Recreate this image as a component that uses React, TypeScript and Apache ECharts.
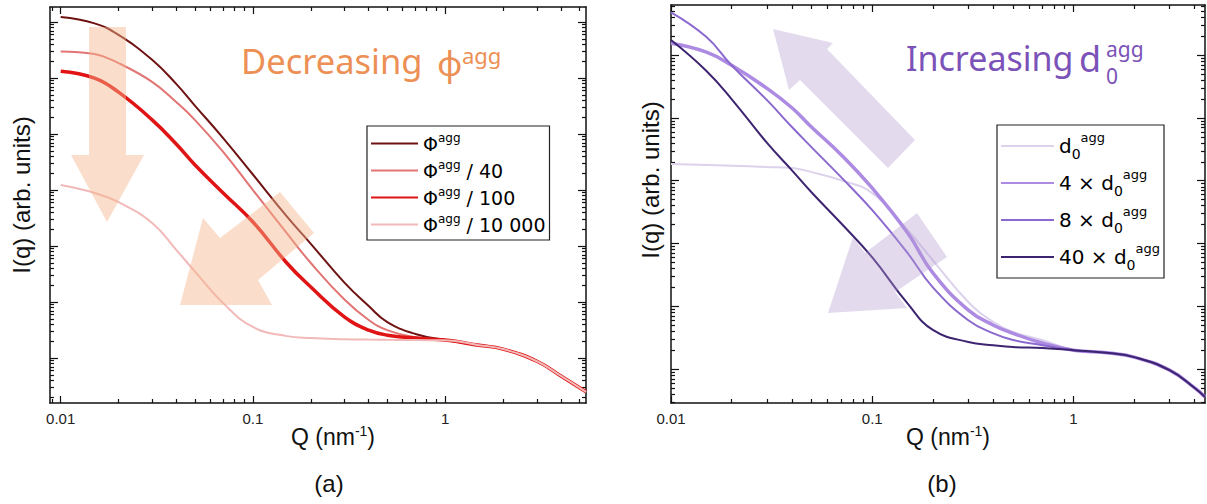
import React, { useEffect, useRef } from 'react';
import * as echarts from 'echarts';

// ---------- Panel (a) data ----------
const Q_A = [0.01, 0.015, 0.02, 0.03, 0.04, 0.05, 0.07, 0.1, 0.15, 0.2, 0.3, 0.4, 0.5, 0.7, 1, 1.5, 2, 3, 4, 5.4];
const PHI_AGG = [1.23e6, 9.5e5, 5.9e5, 2.1e5, 7.8e4, 3.2e4, 8.5e3, 1.9e3, 340, 110, 22, 8.5, 4.4, 2.7, 2.1, 1.7, 1.45, 0.88, 0.48, 0.25];
const PHI_AGG_40 = [3.0e5, 2.7e5, 1.85e5, 8.5e4, 3.7e4, 1.78e4, 4.8e3, 1.0e3, 170, 50, 11, 4.8, 3.16, 2.37, 2.1, 1.7, 1.45, 0.88, 0.48, 0.25];
const PHI_AGG_100 = [1.33e5, 1.0e5, 5.6e4, 1.78e4, 6.6e3, 2.8e3, 890, 270, 50, 18.6, 5.4, 3.16, 2.57, 2.28, 2.1, 1.7, 1.45, 0.88, 0.48, 0.25];
const PHI_AGG_10000 = [1230, 890, 610, 257, 85, 35, 9.6, 3.6, 2.47, 2.28, 2.18, 2.14, 2.12, 2.1, 2.08, 1.7, 1.45, 0.88, 0.48, 0.25];

// ---------- Panel (b) data ----------
const Q_B = [0.01, 0.015, 0.02, 0.03, 0.04, 0.05, 0.07, 0.1, 0.15, 0.2, 0.3, 0.4, 0.5, 0.7, 1, 1.5, 2, 3, 4, 4.5];
const D0_AGG = [1840, 1780, 1740, 1650, 1590, 1370, 1020, 635, 163, 54, 11.7, 5.6, 3.9, 2.9, 2.0, 1.8, 1.55, 0.96, 0.5, 0.36];
const D0_AGG_4 = [1.55e5, 1.12e5, 6.9e4, 2.96e4, 1.44e4, 7.1e3, 2.6e3, 760, 147, 34, 8.7, 5.0, 3.7, 2.6, 2.0, 1.8, 1.55, 0.96, 0.5, 0.36];
const D0_AGG_8 = [4.8e5, 1.94e5, 6.9e4, 1.92e4, 7.1e3, 3.4e3, 1140, 340, 70, 20, 6.0, 3.7, 2.9, 2.4, 2.0, 1.8, 1.55, 0.96, 0.5, 0.36];
const D0_AGG_40 = [1.74e5, 5.6e4, 2.0e4, 4.0e3, 1.45e3, 650, 210, 60, 11, 4.2, 2.7, 2.4, 2.24, 2.16, 2.0, 1.8, 1.55, 0.96, 0.5, 0.36];

// ---------- Axis ranges & ticks ----------
const X_A_RANGE = [0.0088, 5.4];
const X_B_RANGE = [0.01, 4.5];
const Y_A_RANGE = [0.158, 1.86e6];
const Y_B_RANGE = [0.288, 6.3e5];
const X_MAJOR = [0.01, 0.1, 1];
const Y_MAJOR = [1, 10, 100, 1000, 1e4, 1e5, 1e6];
const MINOR_MULTIPLIERS = [2, 3, 4, 5, 6, 7, 8, 9];
const DECADES = [0.001, 0.01, 0.1, 1, 10, 100, 1000, 1e4, 1e5, 1e6];

const SERIES_A = [
  { name: 'Φagg', values: PHI_AGG, color: '#6E1212', width: 2 },
  { name: 'Φagg / 40', values: PHI_AGG_40, color: '#E27474', width: 2 },
  { name: 'Φagg / 100', values: PHI_AGG_100, color: '#E01414', width: 3.5 },
  { name: 'Φagg / 10 000', values: PHI_AGG_10000, color: '#F2B9B9', width: 2 },
];
const SERIES_B = [
  { name: 'd0agg', values: D0_AGG, color: '#DDD2EC', width: 2 },
  { name: '4 × d0agg', values: D0_AGG_4, color: '#AE8BE2', width: 3.5 },
  { name: '8 × d0agg', values: D0_AGG_8, color: '#8C69CF', width: 2 },
  { name: '40 × d0agg', values: D0_AGG_40, color: '#3D2470', width: 2 },
];

const FONT = 'Liberation Sans, Arial, sans-serif';
const LEGEND_FONT = 'DejaVu Sans, Liberation Sans, sans-serif';
const TITLE_FONT = 'Noto Sans, Open Sans, sans-serif';

function minorTicks(lo: number, hi: number) {
  const out: number[] = [];
  DECADES.forEach((d) => MINOR_MULTIPLIERS.forEach((k) => {
    const v = k * d;
    if (v > lo && v < hi) out.push(v);
  }));
  return out;
}

const fmt = (v: number) => (v >= 1 ? String(Math.round(v)) : String(+v.toPrecision(2)));

function axesFor(gi: number, xr: number[], yr: number[]) {
  const line = { show: true, onZero: false, lineStyle: { color: '#111', width: 1.5 } };
  const noLine = { show: false, onZero: false };
  const xMinor = minorTicks(xr[0], xr[1]);
  const yMinor = minorTicks(yr[0], yr[1]);
  const yMajor = Y_MAJOR.filter((v) => v > yr[0] && v < yr[1]);
  const tick = (len: number, vals: number[]) => ({ show: true, inside: true, length: len, customValues: vals, lineStyle: { color: '#111', width: 1.2 } });
  const base = { type: 'log', gridIndex: gi, splitLine: { show: false }, minorTick: { show: false } };
  const xAxes = [
    { ...base, position: 'bottom', min: xr[0], max: xr[1], axisLine: line, axisTick: tick(7, X_MAJOR),
      axisLabel: { show: true, customValues: X_MAJOR, margin: 8, color: '#222', fontSize: 15, fontFamily: FONT, formatter: fmt } },
    { ...base, position: 'bottom', min: xr[0], max: xr[1], axisLine: noLine, axisTick: tick(4, xMinor), axisLabel: { show: false } },
    { ...base, position: 'top', min: xr[0], max: xr[1], axisLine: line, axisTick: tick(7, X_MAJOR), axisLabel: { show: false } },
    { ...base, position: 'top', min: xr[0], max: xr[1], axisLine: noLine, axisTick: tick(4, xMinor), axisLabel: { show: false } },
  ];
  const yAxes = [
    { ...base, position: 'left', min: yr[0], max: yr[1], axisLine: line, axisTick: tick(8, yMajor), axisLabel: { show: false } },
    { ...base, position: 'left', min: yr[0], max: yr[1], axisLine: noLine, axisTick: tick(4, yMinor), axisLabel: { show: false } },
    { ...base, position: 'right', min: yr[0], max: yr[1], axisLine: line, axisTick: tick(8, yMajor), axisLabel: { show: false } },
    { ...base, position: 'right', min: yr[0], max: yr[1], axisLine: noLine, axisTick: tick(4, yMinor), axisLabel: { show: false } },
  ];
  return { xAxes, yAxes };
}

function seriesFor(gi: number, q: number[], list: typeof SERIES_A) {
  return list.map((s, i) => ({
    type: 'line',
    name: s.name,
    xAxisIndex: gi * 4,
    yAxisIndex: gi * 4,
    data: q.map((x, j) => [x, s.values[j]]),
    symbol: 'none',
    showSymbol: false,
    smooth: 0.45,
    lineStyle: { color: s.color, width: s.width },
    itemStyle: { color: s.color },
    z: 2 + i,
    silent: true,
  }));
}

const fmtA = (n: string) => {
  const [head, rest] = n.split('agg');
  return `{b|${head}}{sup|agg}` + (rest ? `{b|${rest}}` : '');
};
const fmtB = (n: string) => {
  const prefix = n.replace('d0agg', '');
  return `{b|${prefix}d}{sub|0}{sup|agg}`;
};

const ORANGE = '#EC9055';
const PURPLE = '#7B52B8';
const PEACH_FILL = 'rgba(244,180,140,0.46)';
const LAVENDER_FILL = 'rgba(180,155,210,0.37)';
const text = (x: number, y: number, t: string, size: number, fill: string, family = TITLE_FONT) => ({
  type: 'text', z: 60, x, y, silent: true,
  style: { text: t, fontSize: size, fontFamily: family, fill, align: 'left', verticalAlign: 'middle' },
});
const qLabel = (x: number) => ({
  type: 'text', z: 60, x, y: 437, silent: true,
  style: {
    text: '{b|Q (nm}{sup|-1}{b|)}', align: 'center', verticalAlign: 'middle',
    rich: {
      b: { fontSize: 23, lineHeight: 26, fontFamily: FONT, fill: '#111', color: '#111' },
      sup: { fontSize: 14, verticalAlign: 'top', fontFamily: FONT, fill: '#111', color: '#111' },
    },
  },
});
const centered = (x: number, y: number, t: string, size: number, rotation = 0) => ({
  type: 'text', z: 60, x, y, rotation, silent: true,
  style: { text: t, fontSize: size, fontFamily: FONT, fill: '#111', align: 'center', verticalAlign: 'middle' },
});

export default function App() {
  const ref = useRef<HTMLDivElement>(null);
  useEffect(() => {
    const chart = echarts.init(ref.current!, undefined, { renderer: 'svg', width: 1207, height: 504 });
    const a = axesFor(0, X_A_RANGE, Y_A_RANGE);
    const b = axesFor(1, X_B_RANGE, Y_B_RANGE);
    const option: any = {
      animation: false,
      backgroundColor: '#fff',
      grid: [
        { left: 50, top: 7, width: 536, height: 396 },
        { left: 671, top: 5, width: 534, height: 398 },
      ],
      xAxis: [...a.xAxes, ...b.xAxes],
      yAxis: [...a.yAxes, ...b.yAxes],
      legend: [
        {
          data: SERIES_A.map((s) => s.name),
          left: 367, top: 126, orient: 'vertical',
          itemWidth: 47, itemHeight: 14, itemGap: 6, itemStyle: { opacity: 0 },
          padding: [6, 4, 6, 3],
          borderColor: '#222', borderWidth: 1.2, backgroundColor: '#fff',
          selectedMode: false,
          formatter: fmtA,
          textStyle: {
            color: '#000', fontFamily: LEGEND_FONT, fontSize: 19,
            rich: {
              b: { fontSize: 19, lineHeight: 23, fontFamily: LEGEND_FONT, color: '#000' },
              sup: { fontSize: 12, verticalAlign: 'top', fontFamily: LEGEND_FONT, color: '#000' },
            },
          },
        },
        {
          data: SERIES_B.map((s) => s.name),
          left: 997, top: 125, orient: 'vertical',
          itemWidth: 53, itemHeight: 14, itemGap: 7, itemStyle: { opacity: 0 },
          padding: [6, 4, 6, 3],
          borderColor: '#222', borderWidth: 1.2, backgroundColor: '#fff',
          selectedMode: false,
          formatter: fmtB,
          textStyle: {
            color: '#000', fontFamily: LEGEND_FONT, fontSize: 20,
            rich: {
              b: { fontSize: 20, lineHeight: 30, fontFamily: LEGEND_FONT, color: '#000' },
              sub: { fontSize: 14, verticalAlign: 'bottom', fontFamily: LEGEND_FONT, color: '#000' },
              sup: { fontSize: 13, verticalAlign: 'top', fontFamily: LEGEND_FONT, color: '#000' },
            },
          },
        },
      ],
      series: [...seriesFor(0, Q_A, SERIES_A), ...seriesFor(1, Q_B, SERIES_B)],
      graphic: [
        // arrows (a)
        { type: 'polygon', z: 50, silent: true, shape: { points: [[89, 27], [126, 27], [126, 155], [144, 155], [107, 222], [71, 155], [89, 155]] }, style: { fill: PEACH_FILL } },
        { type: 'polygon', z: 50, silent: true, shape: { points: [[280, 192], [314, 233], [258, 280], [272, 305], [180, 305], [203, 218], [220, 238]] }, style: { fill: PEACH_FILL } },
        // arrows (b)
        { type: 'polygon', z: 50, silent: true, shape: { points: [[773, 29], [833, 43], [827, 49], [915, 140], [888, 168], [800, 80], [789, 90]] }, style: { fill: LAVENDER_FILL } },
        { type: 'polygon', z: 50, silent: true, shape: { points: [[917, 213], [947, 257], [895, 292], [907, 308], [828, 313], [853, 237], [865, 253]] }, style: { fill: LAVENDER_FILL } },
        // titles
        text(241, 60, 'Decreasing', 34.5, ORANGE),
        text(437, 62, 'ϕ', 35, ORANGE),
        text(462, 55, 'agg', 22, ORANGE),
        text(906, 58, 'Increasing', 34, PURPLE),
        text(1079, 58, 'd', 36, PURPLE),
        text(1106, 49, 'agg', 21, PURPLE),
        text(1106, 76, '0', 21, PURPLE),
        // axis names
        qLabel(333),
        qLabel(948),
        centered(21, 195, 'I(q) (arb. units)', 24, Math.PI / 2),
        centered(650, 180, 'I(q) (arb. units)', 24, Math.PI / 2),
        // panel letters
        centered(329, 483, '(a)', 24),
        centered(942, 483, '(b)', 24),
      ],
    };
    chart.setOption(option);
    return () => chart.dispose();
  }, []);
  return <div ref={ref} style={{ position: 'fixed', left: 0, top: 0, width: 1207, height: 504, background: '#fff' }} />;
}
